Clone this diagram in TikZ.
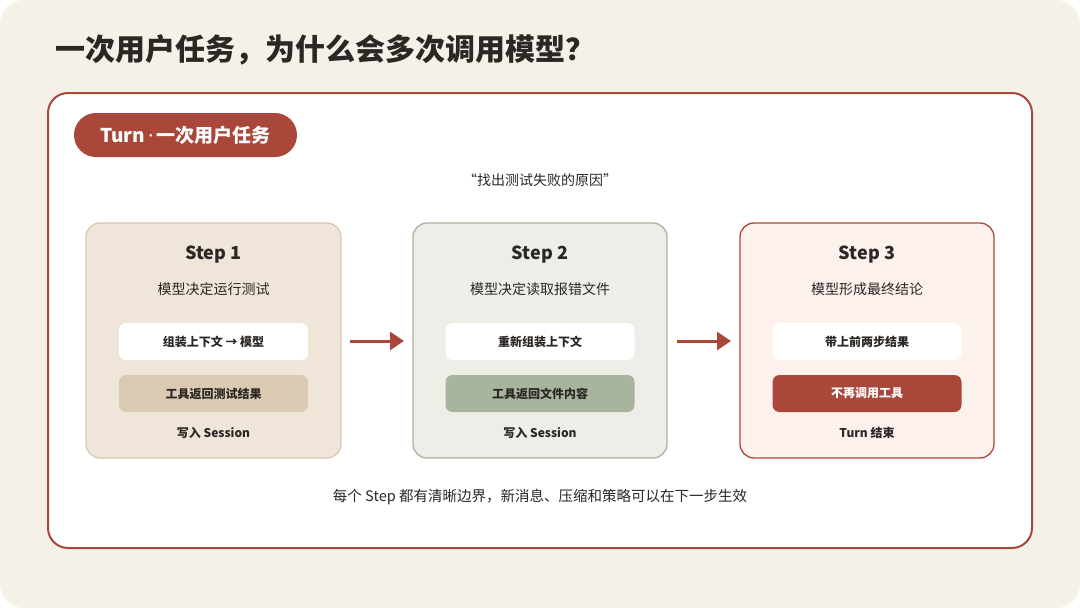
\documentclass[tikz,border=0pt]{standalone}
\usepackage{fontspec}
\usetikzlibrary{arrows.meta}
\setmainfont{Noto Sans CJK SC}
\newfontfamily\lat{Noto Sans}
\definecolor{bg}{HTML}{F5F0E8}
\definecolor{rust}{HTML}{A9483A}
\definecolor{ink}{HTML}{2B2724}
\definecolor{cA}{HTML}{EFE5D8}\definecolor{bA}{HTML}{D9C9B0}\definecolor{dA}{HTML}{DACAB2}
\definecolor{cB}{HTML}{EDEEE8}\definecolor{bB}{HTML}{A9B5A0}\definecolor{dB}{HTML}{A9B49F}
\definecolor{cC}{HTML}{FCF1EC}
\begin{document}
\begin{tikzpicture}[x=1pt,y=-1pt,
  card/.style={draw,line width=1.3pt,rounded corners=14pt},
  inner/.style={rounded corners=7pt,minimum width=189pt,minimum height=37pt,inner sep=0pt,font=\fontsize{12}{14}\selectfont\bfseries},
  st/.style={font=\fontsize{18}{20}\selectfont\bfseries,text=ink},
  sub/.style={font=\fontsize{14}{16}\selectfont,text=ink},
  wr/.style={font=\fontsize{12}{14}\selectfont\bfseries,text=ink},
  arr/.style={draw=rust,line width=3pt,-{Triangle[length=14pt,width=18pt]}}]
\useasboundingbox (0,0) rectangle (1080,608);
\fill[white] (0,0) rectangle (1080,608);
\fill[bg,rounded corners=24pt] (0,0) rectangle (1080,608);
\node[anchor=west,text=ink,font=\fontsize{30}{34}\selectfont\bfseries,inner sep=0pt] (title) at (55,50) {一次用户任务，为什么会多次调用模型？};
\draw[rust,line width=2pt,fill=white,rounded corners=20pt] (48,93) rectangle (1032,548);
\node[fill=rust,rounded corners=22pt,minimum width=223pt,minimum height=44pt,text=white,font=\fontsize{19}{21}\selectfont\bfseries] (pill) at (185.5,135) {Turn{\lat\,·\,}一次用户任务};
\node[font=\fontsize{14}{16}\selectfont,text=ink] (q) at (540,180) {“找出测试失败的原因”};
\draw[card,draw=bA,fill=cA] (86,223) rectangle (341,458);
\draw[card,draw=bB,fill=cB] (413,223) rectangle (667,458);
\draw[card,draw=rust,fill=cC] (740,223) rectangle (994,458);
\foreach \cx/\n/\s/\a/\b/\w/\f/\t in {213.5/1/模型决定运行测试/组装上下文 → 模型/工具返回测试结果/写入 Session/dA/ink,540/2/模型决定读取报错文件/重新组装上下文/工具返回文件内容/写入 Session/dB/ink,867/3/模型形成最终结论/带上前两步结果/不再调用工具/Turn 结束/rust/white}{
  \node[st] (s\n) at (\cx,255) {Step \n};
  \node[sub] (d\n) at (\cx,289) {\s};
  \node[inner,fill=white,text=ink] (a\n) at (\cx,341.5) {\a};
  \node[inner,fill=\f,text=\t] (b\n) at (\cx,393.5) {\b};
  \node[wr] (w\n) at (\cx,433) {\w};
}
\coordinate (p1) at (350,341); \coordinate (p2) at (404,341);
\coordinate (p3) at (677,341); \coordinate (p4) at (731,341);
\draw[arr] (p1) -- (p2);
\draw[arr] (p3) -- (p4);
\node[font=\fontsize{14.5}{16}\selectfont,text=ink] (note) at (540,497) {每个 Step 都有清晰边界，新消息、压缩和策略可以在下一步生效};
\end{tikzpicture}
\end{document}
